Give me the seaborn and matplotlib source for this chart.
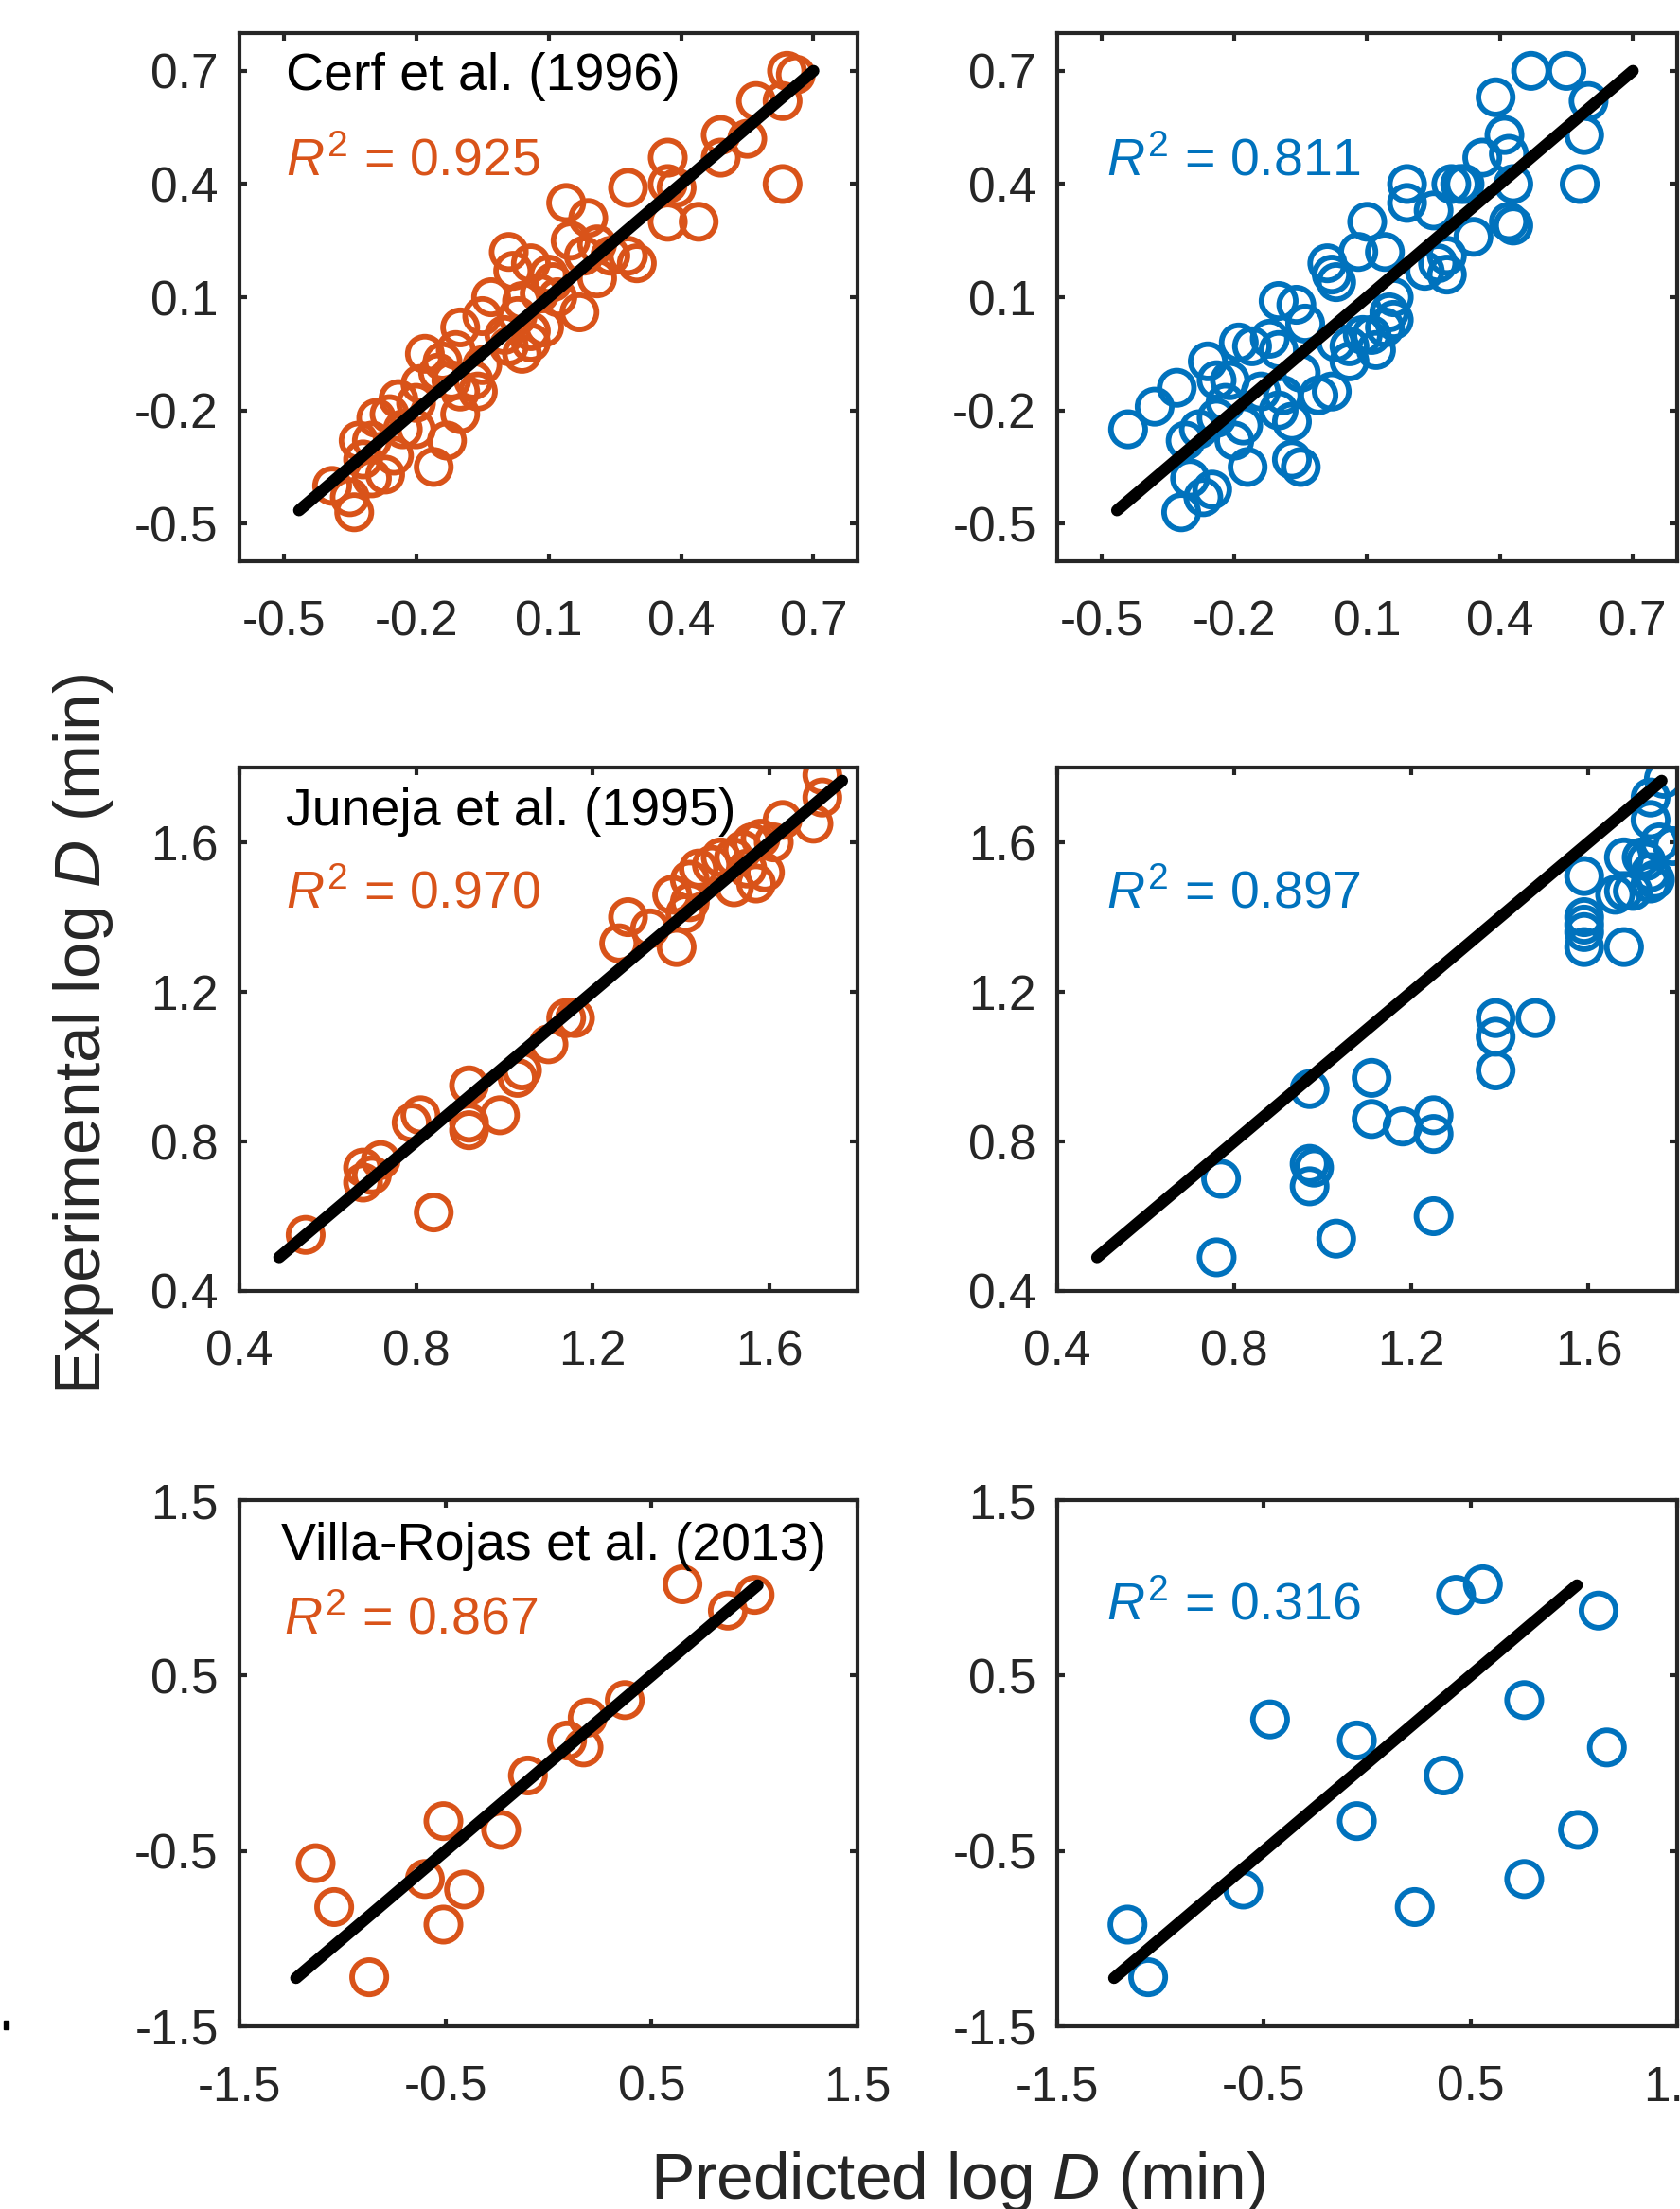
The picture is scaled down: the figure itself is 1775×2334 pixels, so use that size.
import matplotlib
matplotlib.use("Agg")
import matplotlib.pyplot as plt
import seaborn as sns

sns.set_style("ticks")
plt.rcParams['font.family'] = ['Liberation Sans', 'DejaVu Sans']
plt.rcParams['mathtext.fontset'] = 'custom'
plt.rcParams['mathtext.rm'] = 'Liberation Sans'
plt.rcParams['mathtext.it'] = 'Liberation Sans:italic'
plt.rcParams['axes.unicode_minus'] = False

orange = "#D95319"
blue = "#0072BD"
axcol = "#262626"

# ---- Cerf et al. (1996)
cerf_pred_a = [0.64, 0.66, 0.57, 0.63, 0.49, 0.55, 0.49, 0.63, 0.37, 0.28, 0.37, 0.39, 0.37, 0.44, 0.24, 0.28, 0.30,
               0.14, 0.19, 0.15, 0.01, 0.02, 0.06, 0.10, 0.18, 0.21, 0.17, -0.03, 0.04, 0.08, -0.10, -0.05, 0.06, 0.09,
               0.04, 0.01, -0.18, -0.14, -0.11, -0.07, -0.06, -0.10, -0.10, -0.13, -0.16, -0.24, -0.19, -0.29, -0.33,
               -0.30, -0.25, -0.20, -0.39, -0.30, -0.34, -0.35,
               -0.15, -0.05, 0.00, -0.20, -0.26, -0.23, 0.03, 0.12, 0.06, -0.12, -0.32, -0.27, 0.21, 0.11]
cerf_exp_a = [0.70, 0.69, 0.62, 0.62, 0.53, 0.52, 0.47, 0.40, 0.47, 0.39, 0.40, 0.39, 0.30, 0.30, 0.21, 0.21, 0.19,
              0.35, 0.31, 0.25, 0.22, 0.17, 0.19, 0.16, 0.21, 0.15, 0.06, 0.10, 0.09, 0.11, 0.02, 0.05, 0.01, 0.02,
              -0.05, -0.03, -0.05, -0.07, -0.04, -0.12, -0.15, -0.15, -0.21, -0.28, -0.35, -0.17, -0.13, -0.22, -0.28,
              -0.28, -0.32, -0.25, -0.40, -0.38, -0.47, -0.43,
              -0.10, -0.08, 0.00, -0.18, -0.21, -0.25, 0.05, 0.10, -0.02, -0.12, -0.33, -0.37, 0.24, 0.14]
cerf_pred_b = [0.47, 0.55, 0.60, 0.59, 0.58, 0.39, 0.41, 0.36, 0.42, 0.43, 0.42, 0.43, 0.34, 0.29, 0.31, 0.32, 0.25,
               0.19, 0.19, 0.10, 0.08, 0.14, 0.01, 0.02, 0.03, 0.28, 0.28, 0.23, 0.26, 0.16, 0.16, 0.14, 0.12, 0.06,
               0.06, 0.11, 0.15, -0.01, 0.02, -0.07, -0.07, -0.05, -0.17, -0.20, -0.18, -0.24, -0.31, -0.30, -0.25,
               -0.27, -0.32, -0.21, -0.14, -0.09, -0.10, -0.44, -0.38, -0.33, -0.26, -0.19, -0.10, -0.06, -0.12, -0.10,
               -0.04, -0.16, -0.24, 0.03, -0.05, -0.28, -0.22, 0.09]
cerf_exp_b = [0.70, 0.70, 0.62, 0.53, 0.40, 0.63, 0.53, 0.47, 0.48, 0.40, 0.30, 0.29, 0.26, 0.40, 0.40, 0.40, 0.33,
              0.40, 0.35, 0.30, 0.22, 0.22, 0.19, 0.16, 0.14, 0.21, 0.16, 0.17, 0.19, 0.10, 0.04, 0.02, -0.04, -0.03,
              -0.07, 0.00, 0.06, -0.16, -0.15, -0.23, -0.33, -0.35, -0.35, -0.28, -0.24, -0.22, -0.28, -0.38, -0.41,
              -0.43, -0.47, -0.12, -0.15, -0.16, -0.20, -0.25, -0.19, -0.14, -0.07, -0.02, 0.09, 0.08, -0.01, -0.04,
              0.03, -0.03, -0.12, -0.02, -0.10, -0.25, -0.18, 0.00]

# ---- Juneja et al. (1995)
jun_pred_a = [0.55, 0.68, 0.70, 0.72, 0.68, 0.79, 0.81, 0.84, 0.92, 0.92, 0.92, 0.99, 1.03, 1.04, 1.10, 1.14, 1.16,
              1.26, 1.28, 1.33, 1.39, 1.38, 1.41, 1.42, 1.42, 1.44, 1.47, 1.49, 1.52, 1.54, 1.56, 1.58, 1.61, 1.63,
              1.70, 1.72, 1.72, 1.52, 1.57, 1.59, 1.55]
jun_exp_a = [0.55, 0.69, 0.71, 0.75, 0.73, 0.85, 0.87, 0.61, 0.95, 0.83, 0.85, 0.87, 0.97, 0.99, 1.06, 1.13, 1.13,
             1.33, 1.40, 1.37, 1.32, 1.46, 1.41, 1.44, 1.50, 1.53, 1.54, 1.56, 1.56, 1.58, 1.60, 1.61, 1.60, 1.66,
             1.65, 1.72, 1.78, 1.48, 1.49, 1.52, 1.53]
jun_pred_b = [0.77, 0.76, 0.97, 0.97, 0.98, 0.97, 1.03, 1.11, 1.11, 1.18, 1.25, 1.25, 1.25, 1.39, 1.39, 1.39, 1.48,
              1.59, 1.59, 1.59, 1.59, 1.59, 1.68, 1.66, 1.68, 1.68, 1.72, 1.74, 1.74, 1.76, 1.79, 1.74, 1.74, 1.77,
              1.73, 1.75, 1.70]
jun_exp_b = [0.70, 0.49, 0.94, 0.74, 0.73, 0.68, 0.54, 0.97, 0.86, 0.84, 0.87, 0.82, 0.60, 1.13, 1.08, 0.99, 1.13,
             1.51, 1.40, 1.38, 1.36, 1.32, 1.32, 1.46, 1.47, 1.56, 1.56, 1.49, 1.52, 1.60, 1.59, 1.66, 1.72, 1.77,
             1.55, 1.50, 1.47]

# ---- Villa-Rojas et al. (2013)
villa_pred_a = [0.65, 0.87, 1.00, 0.37, 0.19, 0.17, 0.09, -0.10, -0.51, -0.23, -1.13, -0.60, -0.41, -1.04, -0.51, -0.87]
villa_exp_a = [1.02, 0.87, 0.96, 0.36, 0.26, 0.09, 0.13, -0.07, -0.33, -0.38, -0.57, -0.66, -0.72, -0.82, -0.92, -1.22]
villa_pred_b = [0.43, 0.56, 1.12, 0.76, -0.47, -0.05, 0.37, 1.16, -0.05, 1.02, 0.76, -0.60, 0.23, -1.16, -1.06]
villa_exp_b = [0.96, 1.02, 0.87, 0.36, 0.25, 0.13, -0.07, 0.09, -0.33, -0.38, -0.66, -0.72, -0.82, -0.92, -1.22]

studies = ["Cerf et al. (1996)", "Juneja et al. (1995)", "Villa-Rojas et al. (2013)"]
r2_a = ["0.925", "0.970", "0.867"]
r2_b = ["0.811", "0.897", "0.316"]
diag = [(-0.465, 0.70), (0.49, 1.765), (-1.225, 1.015)]
lims = [(-0.6, 0.8), (0.4, 1.8), (-1.5, 1.5)]
ticks = [[-0.5, -0.2, 0.1, 0.4, 0.7], [0.4, 0.8, 1.2, 1.6], [-1.5, -0.5, 0.5, 1.5]]
tick_labels = [["-0.5", "-0.2", "0.1", "0.4", "0.7"], ["0.4", "0.8", "1.2", "1.6"], ["-1.5", "-0.5", "0.5", "1.5"]]

data = [[(cerf_pred_a, cerf_exp_a), (cerf_pred_b, cerf_exp_b)],
        [(jun_pred_a, jun_exp_a), (jun_pred_b, jun_exp_b)],
        [(villa_pred_a, villa_exp_a), (villa_pred_b, villa_exp_b)]]

fig = plt.figure(figsize=(17.75, 23.34), dpi=100)
cols = [(0.1425, 0.368), (0.6293, 0.369)]
rows = [(0.7459, 0.2391), (0.4156, 0.2369), (0.0827, 0.2382)]
r2_pos = [[(0.075, 0.755), (0.079, 0.755)], [(0.075, 0.757), (0.079, 0.757)], [(0.072, 0.770), (0.08, 0.797)]]
title_y = [0.917, 0.916, 0.911]

for i in range(3):
    for j in range(2):
        ax = fig.add_axes([cols[j][0], rows[i][0], cols[j][1], rows[i][1]])
        col = orange if j == 0 else blue
        px, py = data[i][j]
        sns.scatterplot(x=px, y=py, ax=ax, marker='o', s=680, facecolor='none',
                        edgecolor=col, linewidth=4.2, zorder=2)
        sns.lineplot(x=list(diag[i]), y=list(diag[i]), ax=ax, color='k', lw=9,
                     solid_capstyle='round', zorder=3)
        ax.set_xlim(lims[i])
        ax.set_ylim(lims[i])
        ax.set_xticks(ticks[i])
        ax.set_yticks(ticks[i])
        ax.set_xticklabels(tick_labels[i])
        ax.set_yticklabels(tick_labels[i])
        ax.tick_params(direction='in', top=True, right=True, length=6, width=3,
                       color=axcol, labelcolor=axcol, labelsize=37)
        ax.tick_params(axis='x', pad=29)
        ax.tick_params(axis='y', pad=16)
        for sp in ax.spines.values():
            sp.set_visible(True)
            sp.set_linewidth(3)
            sp.set_color(axcol)
        ax.set_xlabel('')
        ax.set_ylabel('')
        if j == 0:
            ax.text(0.075 if i < 2 else 0.068, title_y[i], studies[i], transform=ax.transAxes,
                    fontsize=40, color='k', ha='left', va='center')
        ax.text(r2_pos[i][j][0], r2_pos[i][j][1], r'$R^2$ = ' + (r2_a[i] if j == 0 else r2_b[i]),
                transform=ax.transAxes, fontsize=40, color=col, ha='left', va='center')

fig.text(0.0496, 0.532, r'Experimental log $D$ (min)', rotation=90, fontsize=50,
         ha='center', va='center', color=axcol)
fig.text(0.5705, 0.0047, r'Predicted log $D$ (min)', fontsize=50,
         ha='center', va='baseline', color=axcol)
fig.add_artist(plt.Rectangle((0.002, 0.0812), 0.003, 0.004, color='k', transform=fig.transFigure))

fig.savefig('out.png', dpi=100)
